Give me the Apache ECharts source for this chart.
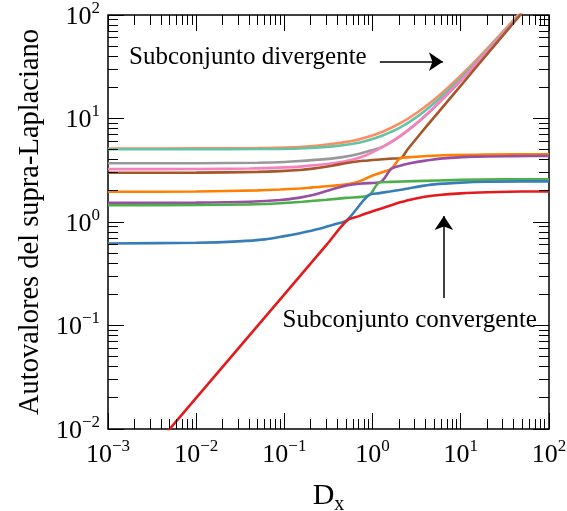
<!DOCTYPE html>
<html>
<head>
<meta charset="utf-8">
<title>Autovalores del supra-Laplaciano</title>
<script src="https://cdn.jsdelivr.net/npm/echarts@6/dist/echarts.min.js"></script>
<style>
  html, body { margin: 0; padding: 0; background: #fff; }
  #chart { width: 567px; height: 511px; }
</style>
</head>
<body>
<div id="chart"></div>
<script>
// eigenvalue curves, [Dx, lambda]
const salmon = [[0.001,5.13],[0.01,5.14],[0.05,5.18],[0.15,5.3],[0.357,5.7],[0.6,6.1],[0.855,6.6],[1.32,7.5],[2.04,8.95],[3.15,11.3],[4.86,14.9],[7.5,20.6],[11.6,29.4],[17.9,43.0],[27.8,64.3],[39.2,88.8],[50,112]];
const teal = [[0.001,5.04],[0.01,5.04],[0.05,5.07],[0.15,5.13],[0.357,5.38],[0.6,5.7],[0.855,6.1],[1.32,6.9],[2.04,8.15],[3.15,10.3],[4.86,13.8],[7.5,19.3],[11.6,28.0],[17.9,41.2],[27.8,62.0],[39.2,86.5],[50,109]];
const gray = [[0.001,3.69],[0.01,3.7],[0.05,3.74],[0.1,3.8],[0.15,3.88],[0.357,4.12],[0.6,4.42],[0.855,4.78],[1.21,5.2],[1.5,5.68],[2.04,6.7],[3.15,8.95],[4.86,12.5],[7.5,18.0],[11.6,26.6],[17.9,39.7],[27.8,60.4],[47,100.5],[60,128]];
const pink = [[0.001,3.24],[0.01,3.25],[0.04,3.29],[0.1,3.37],[0.15,3.43],[0.357,3.69],[0.6,4.02],[0.855,4.44],[1.32,5.34],[2.04,6.75],[3.15,9.0],[4.86,12.6],[7.5,18.2],[11.6,26.8],[17.9,40.0],[27.8,60.8],[47,101],[60,129]];
const brown = [[0.001,2.99],[0.01,3.0],[0.05,3.05],[0.09,3.1],[0.15,3.18],[0.21,3.28],[0.35,3.5],[0.51,3.72],[0.78,3.9],[1.21,4.02],[1.7,4.1],[2.07,4.14],[2.5,5.05],[3.44,7.05],[5,10.3],[10,20.8],[20,42],[46.9,99.5],[100,212]];
const orange = [[0.001,1.96],[0.01,1.97],[0.05,2.02],[0.09,2.06],[0.15,2.11],[0.21,2.16],[0.35,2.24],[0.51,2.32],[0.66,2.42],[0.8,2.58],[0.93,2.74],[1.21,2.98],[1.64,3.28],[2.07,4.14],[2.65,4.22],[3.44,4.3],[6.3,4.41],[20,4.48],[100,4.51]];
const purple = [[0.001,1.53],[0.01,1.54],[0.04,1.57],[0.09,1.63],[0.15,1.72],[0.21,1.82],[0.35,2.07],[0.51,2.26],[0.78,2.36],[1.21,2.42],[1.64,3.28],[2.0,3.48],[2.65,3.69],[4,3.92],[6.3,4.12],[15,4.28],[40,4.33],[100,4.35]];
const green = [[0.001,1.45],[0.01,1.46],[0.04,1.48],[0.07,1.5],[0.16,1.57],[0.3,1.64],[0.5,1.71],[0.9,1.8],[1.21,2.42],[1.6,2.44],[3,2.48],[10,2.55],[30,2.58],[100,2.59]];
const blue = [[0.001,0.62],[0.01,0.63],[0.03,0.65],[0.06,0.68],[0.1,0.73],[0.15,0.78],[0.25,0.86],[0.39,0.96],[0.51,1.04],[0.9,1.81],[1.2,1.9],[1.57,1.97],[2,2.04],[3,2.17],[5,2.31],[10,2.4],[20,2.45],[50,2.47],[100,2.47]];
const red = [[0.001,0.002],[0.01,0.02],[0.1,0.2],[0.3,0.6],[0.51,1.03],[0.7,1.14],[1,1.27],[1.5,1.42],[2,1.54],[3,1.68],[5,1.8],[10,1.89],[20,1.94],[50,1.97],[100,1.97]];

// ticks / labels
const xMajor = [0.001, 0.01, 0.1, 1, 10, 100];
const yMajor = [0.01, 0.1, 1, 10, 100];
const xExp = ['\u22123', '\u22122', '\u22121', '0', '1', '2'];
const yExp = ['\u22122', '\u22121', '0', '1', '2'];
const minorSteps = [2, 3, 4, 5, 6, 7, 8, 9];

// annotations (data coordinates)
const divText = [0.00173, 38.7];
const divArrow = [[1.21, 35.4], [6.27, 35.4]];
const convText = [0.0954, 0.113];
const convArrow = [[6.43, 0.184], [6.43, 1.14]];

const FONT = 'Liberation Serif';
const X_MIN = 0.001, X_MAX = 100, Y_MIN = 0.01, Y_MAX = 100;
const MAJOR_LEN = 16, MINOR_LEN = 10;

function minorOf(major) {
  const out = [];
  for (let i = 0; i < major.length - 1; i++) {
    minorSteps.forEach(m => out.push(major[i] * m));
  }
  return out;
}

const rich = {
  b: { fontFamily: FONT, fontSize: 26, color: '#000', lineHeight: 30, verticalAlign: 'bottom' },
  s: { fontFamily: FONT, fontSize: 17, color: '#000', lineHeight: 17, verticalAlign: 'top' }
};

// drawn from the top curve down, so the lower ones sit on top
const curves = [
  { name: 'salmon', color: '#fc8d62', data: salmon },
  { name: 'teal', color: '#66c2a5', data: teal },
  { name: 'gray', color: '#999999', data: gray },
  { name: 'pink', color: '#f781bf', data: pink },
  { name: 'brown', color: '#a65628', data: brown },
  { name: 'orange', color: '#ff7f00', data: orange },
  { name: 'purple', color: '#984ea3', data: purple },
  { name: 'green', color: '#4daf4a', data: green },
  { name: 'blue', color: '#377eb8', data: blue },
  { name: 'red', color: '#e41a1c', data: red }
];

const series = curves.map(c => ({
  name: c.name, type: 'line', data: c.data,
  showSymbol: false, smooth: 0.3, clip: true, z: 2,
  lineStyle: { color: c.color, width: 2.6 },
  itemStyle: { color: c.color }
}));

// annotations ride on the last curve
Object.assign(series[series.length - 1], {
  markLine: {
    silent: true, animation: false,
    symbol: ['none', 'arrow'], symbolSize: 14,
    lineStyle: { color: '#000', width: 1.5, type: 'solid' },
    itemStyle: { color: '#000' },
    label: { show: false },
    data: [
      [{ coord: divArrow[0] }, { coord: divArrow[1] }],
      [{ coord: convArrow[0] }, { coord: convArrow[1] }]
    ]
  },
  markPoint: {
    silent: true, animation: false,
    symbol: 'circle', symbolSize: 0,
    label: { show: true, position: 'right', distance: 0, formatter: p => p.name,
      fontFamily: FONT, fontSize: 25, color: '#000' },
    data: [
      { name: 'Subconjunto divergente', coord: divText },
      { name: 'Subconjunto convergente', coord: convText }
    ]
  }
});

const chart = echarts.init(document.getElementById('chart'));
chart.setOption({
  animation: false,
  grid: { left: 108, right: 18, top: 15, bottom: 82, show: true, outerBoundsMode: 'none',
    borderColor: '#000', borderWidth: 1.5 },
  xAxis: {
    type: 'log', logBase: 10, min: X_MIN, max: X_MAX,
    axisLine: { show: false }, axisTick: { show: false }, splitLine: { show: false },
    axisLabel: {
      margin: 9,
      formatter: v => '{b|10}{s|' + xExp[Math.round(Math.log10(v)) + 3] + '}',
      rich: rich
    },
    name: '{d|D}{x|x}', nameLocation: 'middle', nameGap: 52,
    nameTextStyle: { rich: {
      d: { fontFamily: FONT, fontSize: 30, color: '#000', lineHeight: 34, verticalAlign: 'top' },
      x: { fontFamily: FONT, fontSize: 20, color: '#000', lineHeight: 34, verticalAlign: 'bottom', padding: [10, 0, 0, 0] }
    } }
  },
  yAxis: {
    type: 'log', logBase: 10, min: Y_MIN, max: Y_MAX,
    axisLine: { show: false }, axisTick: { show: false }, splitLine: { show: false },
    axisLabel: {
      margin: 8,
      formatter: v => '{b|10}{s|' + yExp[Math.round(Math.log10(v)) + 2] + '}',
      rich: rich
    },
    name: 'Autovalores del supra-Laplaciano', nameLocation: 'middle', nameGap: 62, nameRotate: 90,
    nameTextStyle: { fontFamily: FONT, fontSize: 28.5, color: '#000' }
  },
  series: series
});

// inward ticks on all four sides, placed through the axes' own scales
const finder = { xAxisIndex: 0, yAxisIndex: 0 };
const tickEls = [];
const bar = (x, y, w, h) => tickEls.push({ type: 'rect', z: 100, silent: true,
  shape: { x: x, y: y, width: w, height: h }, style: { fill: '#000' } });

function addXTicks(values, len) {
  values.forEach(v => {
    const b = chart.convertToPixel(finder, [v, Y_MIN]);
    const t = chart.convertToPixel(finder, [v, Y_MAX]);
    const x = Math.round(b[0] - 0.5);
    bar(x, b[1] - len, 1, len);
    bar(x, t[1], 1, len);
  });
}
function addYTicks(values, len) {
  values.forEach(v => {
    const l = chart.convertToPixel(finder, [X_MIN, v]);
    const r = chart.convertToPixel(finder, [X_MAX, v]);
    const y = Math.round(l[1] - 0.5);
    bar(l[0], y, len, 1);
    bar(r[0] - len, y, len, 1);
  });
}
addXTicks(xMajor, MAJOR_LEN);
addXTicks(minorOf(xMajor), MINOR_LEN);
addYTicks(yMajor, MAJOR_LEN);
addYTicks(minorOf(yMajor), MINOR_LEN);
chart.setOption({ graphic: { elements: tickEls } });
</script>
</body>
</html>
